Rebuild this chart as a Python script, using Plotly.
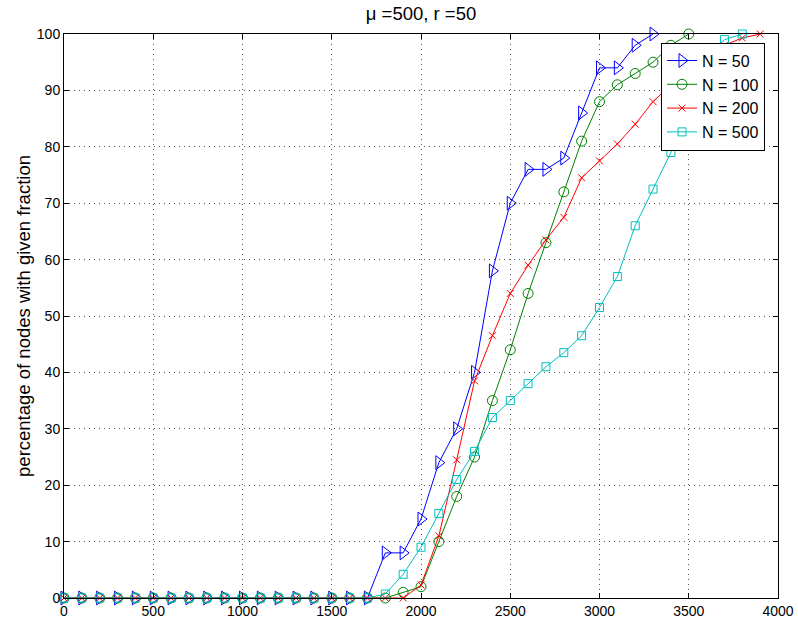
import plotly.graph_objects as go

x_n50 = list(range(0, 3400, 100))
y_n50 = [0]*18 + [8, 8, 14, 24, 30, 40, 58, 70, 76, 76, 78, 86, 94, 94, 98, 100]

x_n100 = list(range(0, 3600, 100))
y_n100 = [0]*19 + [1, 2, 10, 18, 25, 35, 44, 54, 63, 72, 81, 88, 91, 93, 95, 98, 100]

x_n200 = list(range(0, 4000, 100))
y_n200 = [0]*20 + [2.3, 11, 24.5, 38.5, 46.5, 54, 59, 63.5, 67.5, 74.5, 77.5, 80.5, 84, 88, 91, 94, 96, 98, 99.3, 100]

x_n500 = list(range(0, 3900, 100))
y_n500 = [0]*18 + [0.7, 4.2, 9, 15, 21, 26, 32, 35, 38, 41, 43.5, 46.5, 51.5, 57, 66, 72.5, 79, 89, 96, 99, 100]

series_names = ["N = 50", "N = 100", "N = 200", "N = 500"]
x_ticks = [0, 500, 1000, 1500, 2000, 2500, 3000, 3500, 4000]
y_ticks = list(range(0, 101, 10))

styles = [
    dict(color="#0000FF", symbol="triangle-right-open", size=12),
    dict(color="#008000", symbol="circle-open", size=10),
    dict(color="#FF0000", symbol="x-thin-open", size=7),
    dict(color="#00BFBF", symbol="square-open", size=8),
]

FONT = "Liberation Sans, Arial, sans-serif"

fig = go.Figure()
for xs, ys, name, st in zip([x_n50, x_n100, x_n200, x_n500],
                            [y_n50, y_n100, y_n200, y_n500],
                            series_names, styles):
    fig.add_trace(go.Scatter(
        x=xs, y=ys, name=name, mode="lines+markers",
        line=dict(color=st["color"], width=1),
        marker=dict(symbol=st["symbol"], size=st["size"], color=st["color"],
                    line=dict(color=st["color"], width=1)),
        cliponaxis=False,
    ))

axis_common = dict(
    showline=True, linecolor="black", linewidth=1, mirror="ticks",
    ticks="inside", ticklen=5, tickcolor="black", tickwidth=1,
    showgrid=True, gridcolor="#555555", gridwidth=1, griddash="1px,4px",
    zeroline=False, automargin=False,
    tickfont=dict(family=FONT, size=14, color="black"),
)

fig.update_xaxes(range=[0, 4000], tickvals=x_ticks, **axis_common)
fig.update_yaxes(range=[0, 100], tickvals=y_ticks,
                 title=dict(text="percentage of nodes with given fraction",
                            font=dict(family=FONT, size=18.5, color="black"),
                            standoff=1),
                 **axis_common)

fig.update_layout(
    width=798, height=625,
    margin=dict(l=64, r=20, t=34, b=27, autoexpand=False),
    paper_bgcolor="white", plot_bgcolor="white",
    title=dict(text="\u03bc =500, r =50", x=(421/798), xanchor="center",
               y=1 - 14/625, yanchor="middle", automargin=False,
               font=dict(family=FONT, size=18.5, color="black")),
    legend=dict(x=(661-64)/714, y=(598.3-43)/563.9, xanchor="left", yanchor="top",
                bgcolor="white", bordercolor="black", borderwidth=1,
                font=dict(family=FONT, size=16, color="black"),
                tracegroupgap=0),
    showlegend=True,
)

fig.write_html("out.html")
